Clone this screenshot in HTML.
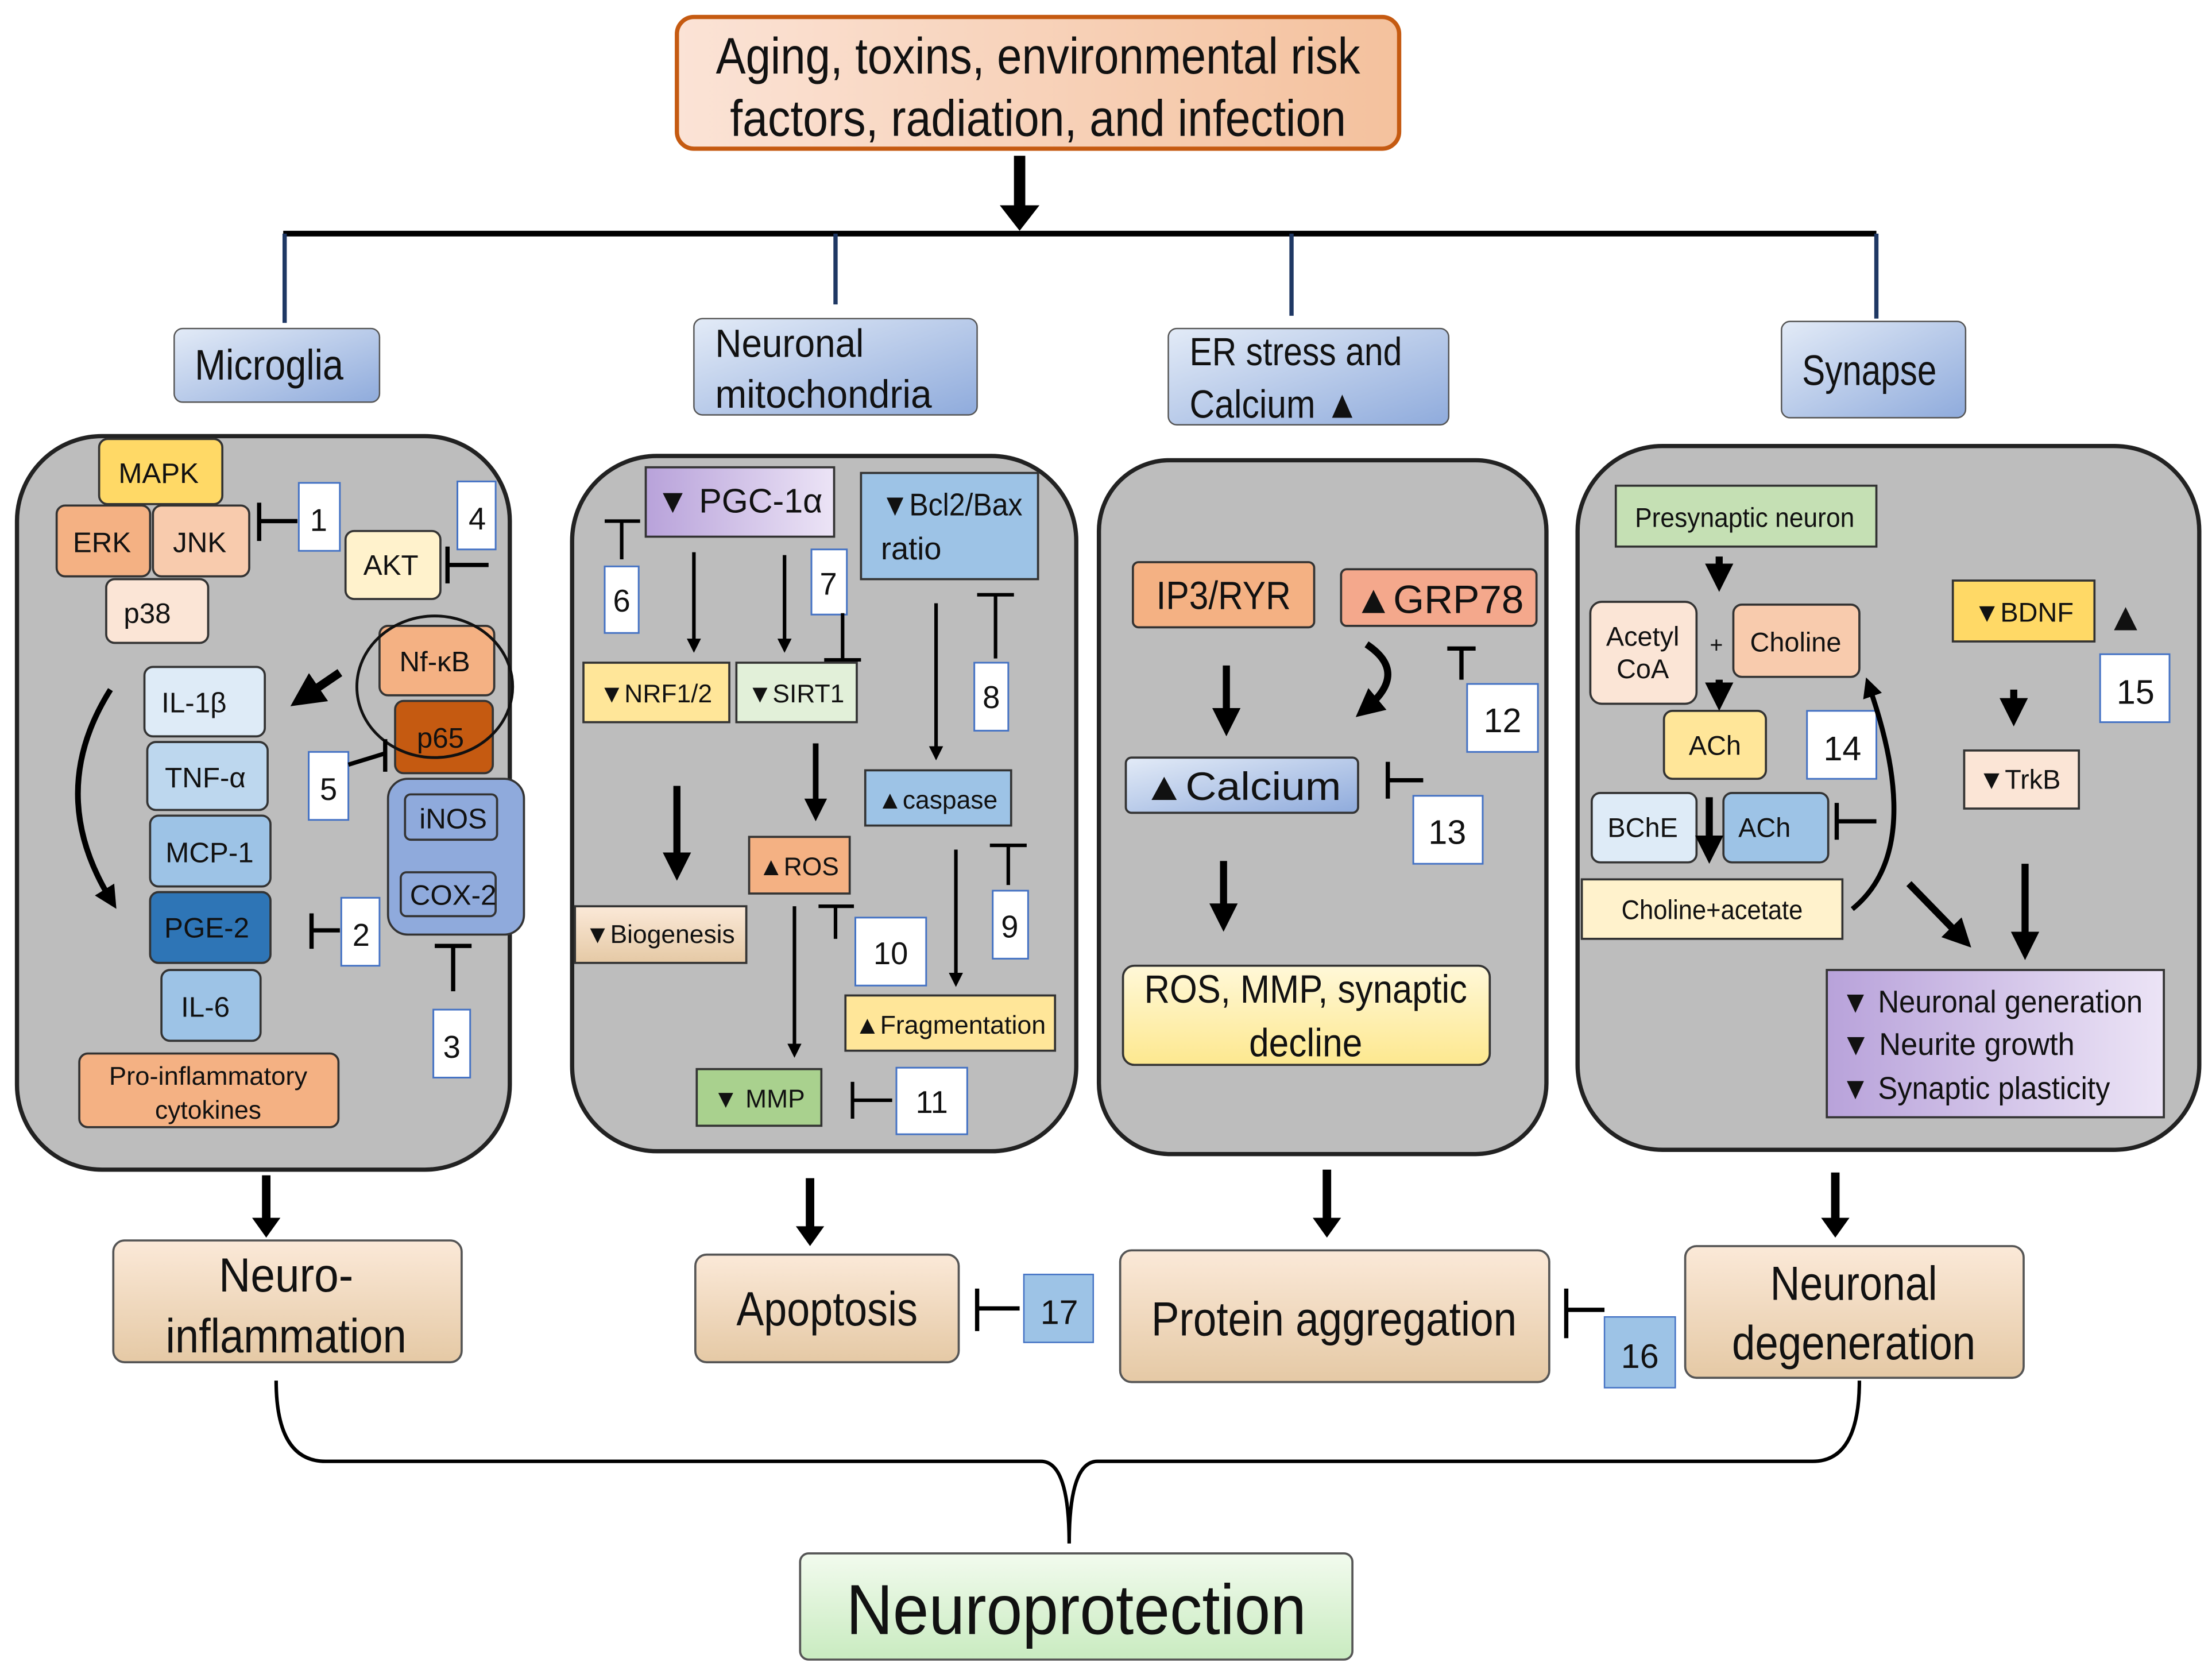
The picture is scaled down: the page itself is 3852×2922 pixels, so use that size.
<!DOCTYPE html>
<html><head><meta charset="utf-8"><style>html,body{margin:0;padding:0;background:#fff}svg{display:block}text{font-family:"Liberation Sans",sans-serif;fill:#111}</style></head><body>
<svg width="3852" height="2922" viewBox="0 0 1562 1185" preserveAspectRatio="none" xmlns="http://www.w3.org/2000/svg">
<defs>
<linearGradient id="gO" x1="0" y1="0" x2="1" y2="0"><stop offset="0" stop-color="#fbe3d6"/><stop offset="1" stop-color="#f4c19d"/></linearGradient>
<linearGradient id="gB" x1="0" y1="0" x2="1" y2="1"><stop offset="0" stop-color="#e3ebf7"/><stop offset="1" stop-color="#8fabdc"/></linearGradient>
<linearGradient id="gT" x1="0" y1="0" x2="0" y2="1"><stop offset="0" stop-color="#fbe9d8"/><stop offset="1" stop-color="#e5c9a5"/></linearGradient>
<linearGradient id="gG" x1="0" y1="0" x2="0" y2="1"><stop offset="0" stop-color="#f2fbee"/><stop offset="1" stop-color="#c9ebc0"/></linearGradient>
<linearGradient id="gP" x1="0" y1="0" x2="1" y2="0"><stop offset="0" stop-color="#b8a2da"/><stop offset="1" stop-color="#ece4f6"/></linearGradient>
<linearGradient id="gY" x1="0" y1="0" x2="0" y2="1"><stop offset="0" stop-color="#fff8d8"/><stop offset="1" stop-color="#fde88f"/></linearGradient>
<marker id="ah" markerWidth="4" markerHeight="4" refX="2" refY="2" orient="auto" markerUnits="strokeWidth"><path d="M0,0 L4,2 L0,4z" fill="#000"/></marker>
</defs>
<g text-anchor="middle">
<rect x="478" y="12" width="510" height="93" rx="12" fill="url(#gO)" stroke="#c55a11" stroke-width="3"/>
<text x="733" y="52" font-size="36" textLength="455" lengthAdjust="spacingAndGlyphs">Aging, toxins, environmental risk</text>
<text x="733" y="96" font-size="36" textLength="435" lengthAdjust="spacingAndGlyphs">factors, radiation, and infection</text>
<path d="M720 110 V148" stroke="#000" stroke-width="8"/><path d="M706 145 L734 145 L720 163z" fill="#000"/>
<path d="M200 165 H1325" stroke="#000" stroke-width="4"/>
<path d="M201 165 V228 M590 165 V215 M912 165 V223 M1325 165 V225" stroke="#1f3864" stroke-width="3"/>
<rect x="123" y="232" width="145" height="52" rx="6" fill="url(#gB)" stroke="#555"/>
<text x="190" y="268" font-size="30" textLength="105" lengthAdjust="spacingAndGlyphs">Microglia</text>
<rect x="490" y="225" width="200" height="68" rx="6" fill="url(#gB)" stroke="#555"/>
<text x="505" y="252" font-size="28" text-anchor="start" textLength="105" lengthAdjust="spacingAndGlyphs">Neuronal</text>
<text x="505" y="288" font-size="28" text-anchor="start" textLength="153" lengthAdjust="spacingAndGlyphs">mitochondria</text>
<rect x="825" y="232" width="198" height="68" rx="6" fill="url(#gB)" stroke="#555"/>
<text x="840" y="258" font-size="28" text-anchor="start" textLength="150" lengthAdjust="spacingAndGlyphs">ER stress and</text>
<text x="840" y="295" font-size="28" text-anchor="start" textLength="120" lengthAdjust="spacingAndGlyphs">Calcium ▲</text>
<rect x="1258" y="227" width="130" height="68" rx="6" fill="url(#gB)" stroke="#555"/>
<text x="1320" y="272" font-size="30" textLength="95" lengthAdjust="spacingAndGlyphs">Synapse</text>
<g fill="#bdbdbd" stroke="#222" stroke-width="3">
<rect x="12" y="308" width="348" height="518" rx="60"/>
<rect x="404" y="322" width="356" height="491" rx="60"/>
<rect x="776" y="325" width="316" height="490" rx="50"/>
<rect x="1114" y="315" width="439" height="497" rx="60"/>
</g>
<g stroke="#333" stroke-width="1.5">
<rect x="70" y="310" width="87" height="46" rx="6" fill="#ffd966"/>
<rect x="40" y="357" width="66" height="50" rx="6" fill="#f4b183"/>
<rect x="108" y="357" width="68" height="50" rx="6" fill="#f8cbad"/>
<rect x="75" y="409" width="72" height="45" rx="6" fill="#fbe5d6"/>
<rect x="244" y="375" width="67" height="48" rx="6" fill="#fff2cc"/>
<rect x="268" y="442" width="81" height="49" rx="6" fill="#f4b183"/>
<rect x="279" y="495" width="69" height="51" rx="6" fill="#c55a11"/>
<rect x="102" y="471" width="85" height="49" rx="6" fill="#deebf7"/>
<rect x="104" y="524" width="85" height="48" rx="6" fill="#bdd7ee"/>
<rect x="106" y="576" width="85" height="50" rx="6" fill="#9dc3e6"/>
<rect x="106" y="630" width="85" height="50" rx="6" fill="#2e75b6"/>
<rect x="114" y="685" width="70" height="50" rx="6" fill="#9dc3e6"/>
<rect x="274" y="550" width="96" height="110" rx="14" fill="#8faadc"/>
<rect x="286" y="561" width="65" height="32" rx="4" fill="#8faadc"/>
<rect x="283" y="616" width="67" height="31" rx="4" fill="#8faadc"/>
<rect x="56" y="744" width="183" height="52" rx="6" fill="#f4b183"/>
</g>
<ellipse cx="307" cy="485" rx="55" ry="50" fill="none" stroke="#111" stroke-width="2"/>
<g font-size="20">
<text x="112" y="341">MAPK</text><text x="72" y="390">ERK</text><text x="141" y="390">JNK</text><text x="104" y="440">p38</text>
<text x="276" y="406">AKT</text><text x="307" y="474">Nf-κB</text><text x="311" y="528">p65</text>
<text x="137" y="503">IL-1β</text><text x="145" y="556">TNF-α</text><text x="148" y="609">MCP-1</text><text x="146" y="662">PGE-2</text><text x="145" y="718">IL-6</text>
<text x="320" y="585">iNOS</text><text x="320" y="639">COX-2</text>
<text x="147" y="766" font-size="18" textLength="140" lengthAdjust="spacingAndGlyphs">Pro-inflammatory</text><text x="147" y="790" font-size="18">cytokines</text>
</g>
<g fill="#fff" stroke="#4472c4" stroke-width="1.2">
<rect x="211" y="341" width="29" height="48"/><rect x="323" y="340" width="27" height="48"/>
<rect x="218" y="531" width="28" height="48"/><rect x="241" y="634" width="27" height="48"/>
<rect x="306" y="713" width="26" height="48"/>
</g>
<g font-size="22"><text x="225" y="375">1</text><text x="337" y="374">4</text><text x="232" y="565">5</text><text x="255" y="668">2</text><text x="319" y="747">3</text></g>
<g stroke="#000" stroke-width="3" fill="none">
<path d="M210 368 H183 M183 355 V382"/><path d="M345 399 H316 M316 386 V412"/>
<path d="M246 540 L272 532 M272 522 V545"/><path d="M240 657 H220 M220 645 V670"/>
<path d="M320 700 V668 M307 668 H333"/>
<path d="M78 487 Q32 560 78 635" stroke-width="4" marker-end="url(#ah)"/>
<path d="M240 475 L215 492" stroke-width="6" marker-end="url(#ah)"/>
</g>
<g stroke="#333" stroke-width="1.5">
<rect x="456" y="330" width="133" height="49" fill="url(#gP)"/>
<rect x="608" y="334" width="125" height="75" fill="#9dc3e6"/>
<rect x="412" y="468" width="103" height="42" fill="#ffe699"/>
<rect x="520" y="468" width="85" height="42" fill="#e2f0d9"/>
<rect x="611" y="544" width="103" height="39" fill="#9dc3e6"/>
<rect x="529" y="591" width="71" height="40" fill="#f4b183"/>
<rect x="406" y="640" width="121" height="40" fill="url(#gT)"/>
<rect x="597" y="703" width="148" height="39" fill="#ffe699"/>
<rect x="492" y="755" width="88" height="40" fill="#a9d18e"/>
</g>
<g font-size="20">
<text x="522" y="362" font-size="24">▼ PGC-1α</text>
<text x="672" y="364" font-size="22" textLength="100" lengthAdjust="spacingAndGlyphs">▼Bcl2/Bax</text><text x="622" y="395" font-size="22" text-anchor="start">ratio</text>
<text x="463" y="496" font-size="18">▼NRF1/2</text><text x="562" y="496" font-size="18">▼SIRT1</text>
<text x="662" y="571" font-size="18">▲caspase</text><text x="564" y="618" font-size="18">▲ROS</text>
<text x="466" y="666" font-size="18">▼Biogenesis</text><text x="671" y="730" font-size="18" textLength="135" lengthAdjust="spacingAndGlyphs">▲Fragmentation</text>
<text x="536" y="782" font-size="18">▼ MMP</text>
</g>
<g fill="#fff" stroke="#4472c4" stroke-width="1.2">
<rect x="427" y="400" width="24" height="47"/><rect x="573" y="388" width="25" height="46"/>
<rect x="688" y="468" width="24" height="48"/><rect x="604" y="648" width="50" height="48"/>
<rect x="701" y="629" width="25" height="48"/><rect x="633" y="754" width="50" height="47"/>
</g>
<g font-size="22"><text x="439" y="432">6</text><text x="585" y="420">7</text><text x="700" y="500">8</text><text x="629" y="681">10</text><text x="713" y="662">9</text><text x="658" y="786">11</text></g>
<g stroke="#000" stroke-width="2.5" fill="none">
<path d="M439 395 V368 M427 368 H452"/><path d="M595 433 V466 M582 466 H608"/>
<path d="M703 465 V420 M690 420 H716"/><path d="M590 663 V640 M578 640 H603"/>
<path d="M712 625 V597 M699 597 H725"/><path d="M630 777 H602 M602 764 V790"/>
<path d="M490 390 V456" marker-end="url(#ah)"/><path d="M554 392 V456" marker-end="url(#ah)"/>
<path d="M661 426 V532" marker-end="url(#ah)"/><path d="M675 600 V692" marker-end="url(#ah)"/>
<path d="M561 640 V742" marker-end="url(#ah)"/>
<path d="M576 525 V572" stroke-width="4" marker-end="url(#ah)"/>
<path d="M478 555 V612" stroke-width="5" marker-end="url(#ah)"/>
</g>
<g stroke="#333" stroke-width="1.5">
<rect x="800" y="397" width="128" height="46" rx="4" fill="#f4b183"/>
<rect x="947" y="402" width="138" height="40" rx="4" fill="#f4a88c"/>
<rect x="795" y="535" width="164" height="39" rx="4" fill="url(#gB)"/>
<rect x="793" y="682" width="259" height="70" rx="8" fill="url(#gY)"/>
</g>
<text x="864" y="430" font-size="28" textLength="95" lengthAdjust="spacingAndGlyphs">IP3/RYR</text>
<text x="1016" y="433" font-size="28" textLength="120" lengthAdjust="spacingAndGlyphs">▲GRP78</text>
<text x="877" y="565" font-size="28" textLength="140" lengthAdjust="spacingAndGlyphs">▲Calcium</text>
<text x="922" y="708" font-size="28" textLength="228" lengthAdjust="spacingAndGlyphs">ROS, MMP, synaptic</text>
<text x="922" y="746" font-size="28" textLength="80" lengthAdjust="spacingAndGlyphs">decline</text>
<g fill="#fff" stroke="#4472c4" stroke-width="1.2"><rect x="1036" y="483" width="50" height="48"/><rect x="998" y="562" width="49" height="48"/></g>
<text x="1061" y="517" font-size="24">12</text><text x="1022" y="596" font-size="24">13</text>
<g stroke="#000" stroke-width="3" fill="none">
<path d="M1032 480 V458 M1022 458 H1042"/><path d="M1005 551 H980 M980 538 V564"/>
<path d="M866 470 V510" stroke-width="5" marker-end="url(#ah)"/>
<path d="M864 608 V648" stroke-width="5" marker-end="url(#ah)"/>
<path d="M965 455 Q995 475 965 500" stroke-width="5" marker-end="url(#ah)"/>
</g>
<g stroke="#333" stroke-width="1.5">
<rect x="1141" y="343" width="184" height="43" fill="#c5e0b4"/>
<rect x="1123" y="425" width="75" height="72" rx="8" fill="#fbe5d6"/>
<rect x="1224" y="427" width="89" height="51" rx="6" fill="#f8cbad"/>
<rect x="1175" y="502" width="72" height="48" rx="6" fill="#ffe699"/>
<rect x="1124" y="560" width="74" height="49" rx="6" fill="#deebf7"/>
<rect x="1217" y="560" width="74" height="49" rx="6" fill="#9dc3e6"/>
<rect x="1117" y="621" width="184" height="42" fill="#fff2cc"/>
<rect x="1379" y="410" width="100" height="43" fill="#ffd966"/>
<rect x="1387" y="530" width="81" height="41" fill="#fbe5d6"/>
<rect x="1290" y="685" width="238" height="104" fill="url(#gP)"/>
</g>
<g font-size="19">
<text x="1232" y="372" textLength="155" lengthAdjust="spacingAndGlyphs">Presynaptic  neuron</text>
<text x="1160" y="456">Acetyl</text><text x="1160" y="479">CoA</text>
<text x="1212" y="461" font-size="16">+</text>
<text x="1268" y="460">Choline</text><text x="1211" y="533">ACh</text>
<text x="1160" y="591">BChE</text><text x="1246" y="591">ACh</text>
<text x="1209" y="649" textLength="128" lengthAdjust="spacingAndGlyphs">Choline+acetate</text>
<text x="1429" y="439">▼BDNF</text><text x="1426" y="557">▼TrkB</text>
</g>
<g font-size="22" text-anchor="start"><text x="1300" y="715" textLength="213" lengthAdjust="spacingAndGlyphs">▼ Neuronal generation</text><text x="1300" y="745" textLength="165" lengthAdjust="spacingAndGlyphs">▼ Neurite growth</text><text x="1300" y="776" textLength="190" lengthAdjust="spacingAndGlyphs">▼ Synaptic plasticity</text></g>
<text x="1501" y="445" font-size="28">▲</text>
<g fill="#fff" stroke="#4472c4" stroke-width="1.2"><rect x="1276" y="502" width="49" height="48"/><rect x="1483" y="462" width="49" height="48"/></g>
<text x="1301" y="537" font-size="24">14</text><text x="1508" y="497" font-size="24">15</text>
<g stroke="#000" stroke-width="3" fill="none">
<path d="M1214 393 V408" stroke-width="5" marker-end="url(#ah)"/>
<path d="M1214 480 V492" stroke-width="5" marker-end="url(#ah)"/>
<path d="M1207 563 V600" stroke-width="5" marker-end="url(#ah)"/>
<path d="M1422 487 V503" stroke-width="5" marker-end="url(#ah)"/>
<path d="M1430 610 V668" stroke-width="5" marker-end="url(#ah)"/>
<path d="M1348 624 L1385 662" stroke-width="5" marker-end="url(#ah)"/>
<path d="M1308 642 Q1360 600 1320 485" stroke-width="3.5" marker-end="url(#ah)"/>
<path d="M1325 580 H1297 M1297 567 V593"/>
</g>
<g stroke="#000" stroke-width="6"><path d="M188 830 V862"/><path d="M572 832 V870"/><path d="M937 826 V862"/><path d="M1296 828 V862"/></g>
<g fill="#000"><path d="M178 860 L198 860 L188 874z"/><path d="M562 866 L582 866 L572 880z"/><path d="M927 860 L947 860 L937 874z"/><path d="M1286 860 L1306 860 L1296 874z"/></g>
<g stroke="#555" stroke-width="1.5" fill="url(#gT)">
<rect x="80" y="876" width="246" height="86" rx="8"/>
<rect x="491" y="886" width="186" height="76" rx="8"/>
<rect x="791" y="883" width="303" height="93" rx="8"/>
<rect x="1190" y="880" width="239" height="93" rx="8"/>
</g>
<text x="202" y="912" font-size="34" textLength="95" lengthAdjust="spacingAndGlyphs">Neuro-</text>
<text x="202" y="955" font-size="34" textLength="170" lengthAdjust="spacingAndGlyphs">inflammation</text>
<text x="584" y="936" font-size="34" textLength="128" lengthAdjust="spacingAndGlyphs">Apoptosis</text>
<text x="942" y="943" font-size="34" textLength="258" lengthAdjust="spacingAndGlyphs">Protein aggregation</text>
<text x="1309" y="918" font-size="34" textLength="118" lengthAdjust="spacingAndGlyphs">Neuronal</text>
<text x="1309" y="960" font-size="34" textLength="172" lengthAdjust="spacingAndGlyphs">degeneration</text>
<g fill="#9dc3e6" stroke="#4472c4"><rect x="723" y="900" width="49" height="48"/><rect x="1133" y="930" width="50" height="50"/></g>
<text x="748" y="935" font-size="24">17</text><text x="1158" y="966" font-size="24">16</text>
<g stroke="#000" stroke-width="3" fill="none"><path d="M720 924 H690 M690 910 V940"/><path d="M1133 925 H1106 M1106 910 V945"/></g>
<path d="M195 975 Q195 1032 230 1032 H735 Q755 1032 755 1090 Q755 1032 775 1032 H1280 Q1313 1032 1313 975" stroke="#000" stroke-width="2.5" fill="none"/>
<rect x="565" y="1097" width="390" height="75" rx="6" fill="url(#gG)" stroke="#555" stroke-width="1.5"/>
<text x="760" y="1154" font-size="50" textLength="325" lengthAdjust="spacingAndGlyphs">Neuroprotection</text>
</g>
</svg>
</body></html>
